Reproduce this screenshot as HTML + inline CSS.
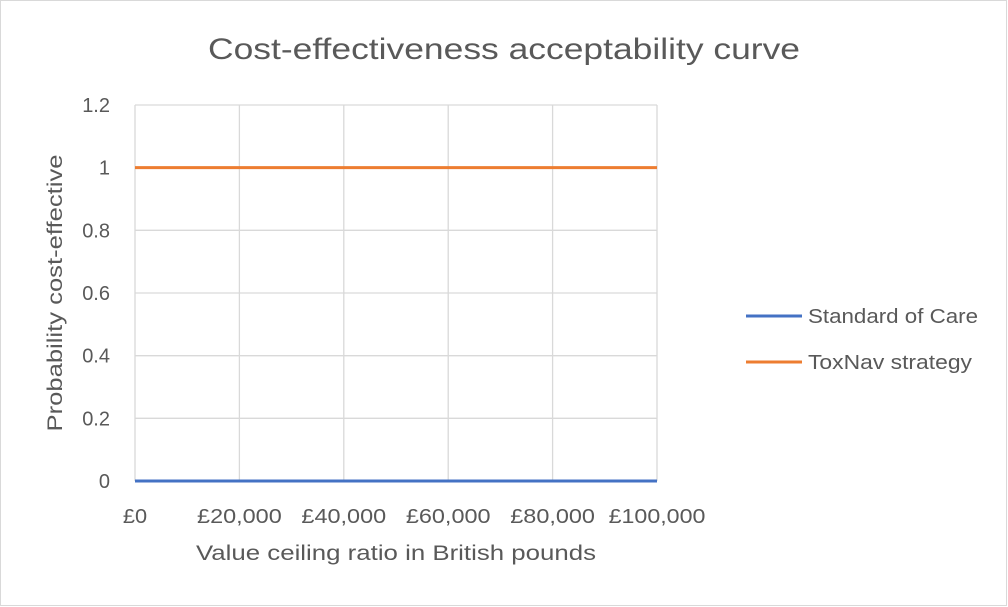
<!DOCTYPE html>
<html><head><meta charset="utf-8"><style>
html,body{margin:0;padding:0;background:#fff;}
svg{display:block;font-family:"Liberation Sans",sans-serif;}
</style></head><body>
<svg id="chart" width="1008" height="607">
<rect x="0.5" y="0.5" width="1006" height="605" fill="#fff" stroke="#d9d9d9"/>
<text x="504" y="59" text-anchor="middle" font-size="30" fill="#595959" textLength="592" lengthAdjust="spacingAndGlyphs">Cost-effectiveness  acceptability curve</text>
<g id="grid"></g>
<g id="series"></g>
<text transform="translate(62,293) rotate(-90)" text-anchor="middle" font-size="21" fill="#595959" textLength="277" lengthAdjust="spacingAndGlyphs">Probability cost-effective</text>
<text x="396" y="560" text-anchor="middle" font-size="21" fill="#595959" textLength="400" lengthAdjust="spacingAndGlyphs">Value ceiling ratio in British pounds</text>
<g>
<line x1="746" y1="316" x2="802" y2="316" stroke="#4472c4" stroke-width="3"/>
<text x="808" y="323" font-size="20" fill="#595959" textLength="170" lengthAdjust="spacingAndGlyphs">Standard of Care</text>
<line x1="746" y1="362" x2="802" y2="362" stroke="#ed7d31" stroke-width="3"/>
<text x="808" y="369" font-size="20" fill="#595959" textLength="164" lengthAdjust="spacingAndGlyphs">ToxNav strategy</text>
</g>
</svg>
<script>
const xCategories=[0,20000,40000,60000,80000,100000];
const xTickLabels=["£0","£20,000","£40,000","£60,000","£80,000","£100,000"];
const yTicks=[0,0.2,0.4,0.6,0.8,1,1.2];
const yTickLabels=["0","0.2","0.4","0.6","0.8","1","1.2"];
const standardOfCare=[0,0,0,0,0,0];
const toxNav=[1,1,1,1,1,1];
const NS="http://www.w3.org/2000/svg";
const X0=135,X1=657,Y0=481,Y1=105;
const xs=v=>X0+(v-0)/(100000-0)*(X1-X0);
const ys=v=>Y0-(v/1.2)*(Y0-Y1);
const grid=document.getElementById('grid'),ser=document.getElementById('series');
function mk(t,a,p){const e=document.createElementNS(NS,t);for(const k in a)e.setAttribute(k,a[k]);p.appendChild(e);return e;}
yTicks.forEach((v,i)=>{
 const l=mk('line',{x1:X0,x2:X1,y1:ys(v),y2:ys(v),stroke:'#d9d9d9','stroke-width':1.3},grid);
 
 
 const t=mk('text',{x:110,y:ys(v)+7,'text-anchor':'end','font-size':20,fill:'#595959'},grid);
 t.textContent=yTickLabels[i];
 
 
});
xCategories.forEach((v,i)=>{
 const t=mk('text',{x:xs(v),y:523,'text-anchor':'middle','font-size':20,fill:'#595959'},grid);
 t.textContent=xTickLabels[i];
 t.setAttribute('textLength',xTickLabels[i].length*12.1);
 t.setAttribute('lengthAdjust','spacingAndGlyphs');
 
 
 const l=mk('line',{x1:xs(v),x2:xs(v),y1:Y1,y2:Y0,stroke:'#d9d9d9','stroke-width':1.3},grid);
 
 
});
function line(vals,color,name){
 const pts=vals.map((v,i)=>xs(xCategories[i])+','+ys(v)).join(' ');
 const p=mk('polyline',{points:pts,fill:'none',stroke:color,'stroke-width':3},ser);
 
 
}
line(standardOfCare,'#4472c4','series-standard-of-care');
line(toxNav,'#ed7d31','series-toxnav');
</script>
</body></html>
